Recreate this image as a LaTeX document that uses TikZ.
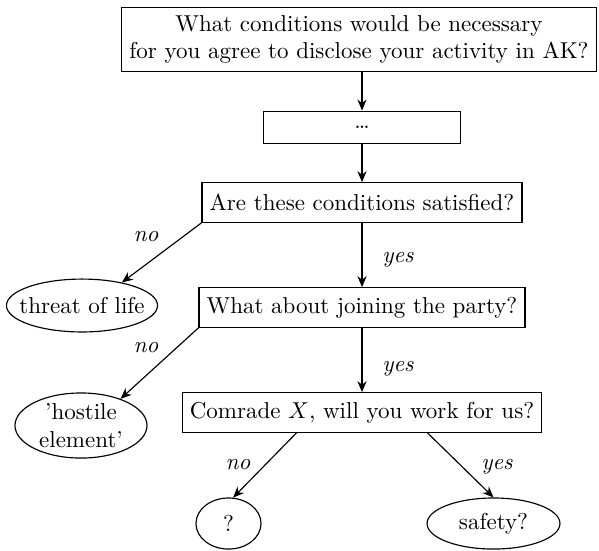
\documentclass[tikz,border=0pt]{standalone}
\usetikzlibrary{shapes.geometric,arrows.meta,calc}
\begin{document}
\begin{tikzpicture}[x=0.4348pt,y=-0.4348pt, line width=0.5pt,
  box/.style={draw, rectangle, inner sep=0.3333em},
  qbox/.style={box, minimum height=17.2pt},
  oval/.style={draw, ellipse, inner sep=0pt},
  lab/.style={font=\itshape, inner sep=0pt},
  arr/.style={-{Stealth[length=4.8pt,width=4pt]}}]
\useasboundingbox (0,0) rectangle (599,550);
\node[box, align=center] (top) at (359,39.5) {What conditions would be necessary\\for you agree to disclose your activity in AK?};
\node[box, minimum width=3cm, minimum height=0.5cm] (dots) at (362,127.5) {\dots};
\node[qbox] (sat) at (362,202.5) {Are these conditions satisfied?};
\node[qbox] (party) at (362,307.5) {What about joining the party?};
\node[qbox] (comrade) at (362,412.5) {Comrade $X$, will you work for us?};
\node[oval, minimum width=65.7pt, minimum height=23pt, label=center:{threat of life}] (threat) at (82,305.5) {};
\node[oval, minimum width=57.4pt, minimum height=28.3pt, label={[align=center]center:'hostile\\element'}] (hostile) at (81,425.5) {};
\node[oval, minimum width=28.3pt, minimum height=22.2pt, label=center:{?}] (q) at (228.5,523.5) {};
\node[oval, minimum width=57.8pt, minimum height=22.2pt, label=center:{safety?}] (safety) at (493.5,523.5) {};
\node[lab] (no1) at (146,237) {no};
\node[lab] (yes1) at (398,260) {yes};
\node[lab] (no2) at (146,348) {no};
\node[lab] (yes2) at (398,369) {yes};
\node[lab] (no3) at (238,465) {no};
\node[lab] (yes3) at (497,467) {yes};
\draw[arr] (dots |- top.south) -- (dots);
\draw[arr] (dots) -- (sat);
\draw[arr] (sat) -- (party);
\draw[arr] (party) -- (comrade);
\draw[arr] (sat.south west) -- (threat.30);
\draw[arr] (party.south west) -- (hostile.34);
\draw[arr] ($(comrade.south)+(-65.5,0)$) -- (q.80);
\draw[arr] ($(comrade.south)+(65.5,0)$) -- (safety.north);
\end{tikzpicture}
\end{document}
